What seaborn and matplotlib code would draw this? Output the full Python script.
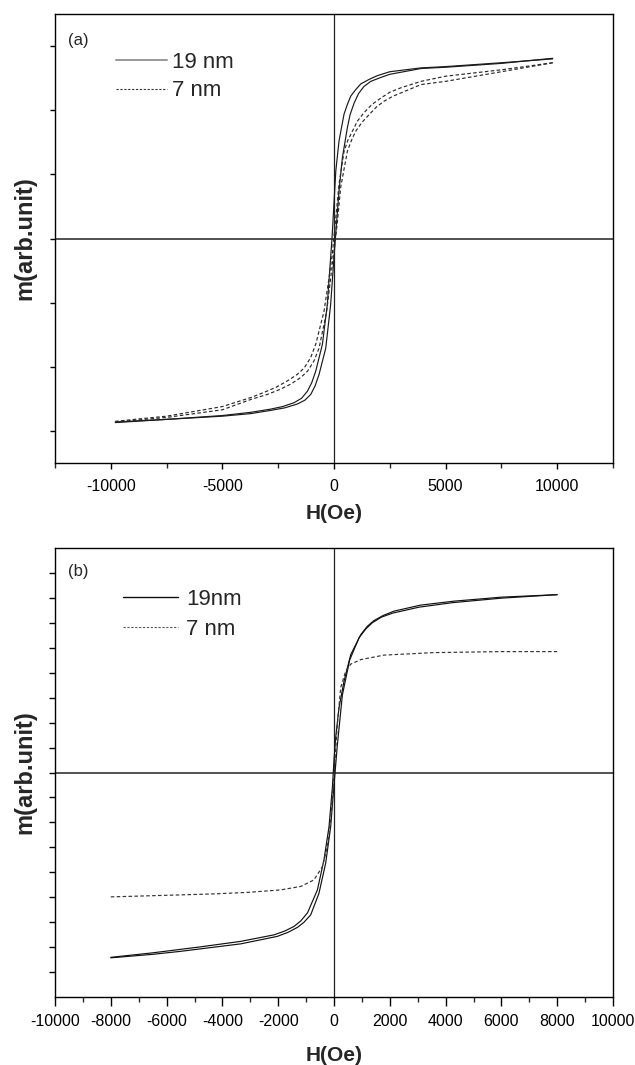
import numpy as np
import pandas as pd
import matplotlib
matplotlib.use("Agg")
import matplotlib.pyplot as plt
from matplotlib.lines import Line2D
import seaborn as sns

# ---------------- data ----------------
# panel (a)
a19_desc_H = [9800, 7500, 5000, 3900, 2500, 1950, 1570, 1200, 970, 750, 600, 450, 225, 80, -90, -300, -520, -820, -1000, -1190, -1450, -1790, -2300, -2840, -3730, -5000, -7500, -9800]
a19_desc_m = [2.80, 2.74, 2.68, 2.66, 2.60, 2.54, 2.48, 2.41, 2.32, 2.22, 2.09, 1.94, 1.52, 1.05, 0.0, -1.03, -1.65, -2.07, -2.25, -2.38, -2.49, -2.56, -2.62, -2.66, -2.71, -2.76, -2.82, -2.86]
a19_asc_H = [-9800, -7500, -5000, -3730, -2840, -2200, -1640, -1300, -1040, -850, -670, -370, -150, 60, 225, 375, 600, 720, 900, 1100, 1340, 1650, 2090, 2500, 3900, 5000, 7500, 9800]
a19_asc_m = [-2.87, -2.82, -2.77, -2.73, -2.68, -2.64, -2.58, -2.52, -2.43, -2.30, -2.12, -1.71, -1.03, 0.0, 0.74, 1.26, 1.73, 1.93, 2.11, 2.26, 2.37, 2.45, 2.51, 2.56, 2.65, 2.67, 2.73, 2.81]

a7_desc_H = [9800, 7500, 5000, 3900, 3000, 2500, 2100, 1700, 1340, 1050, 820, 620, 450, 225, 75, -80, -225, -450, -820, -1050, -1340, -1650, -2090, -2600, -3140, -3730, -5000, -7500, -9800]
a7_desc_m = [2.74, 2.63, 2.53, 2.45, 2.35, 2.28, 2.19, 2.09, 1.96, 1.83, 1.67, 1.53, 1.36, 0.85, 0.30, -0.25, -0.62, -1.14, -1.65, -1.86, -2.02, -2.12, -2.22, -2.32, -2.40, -2.48, -2.62, -2.77, -2.85]
a7_asc_H = [-9800, -7500, -5000, -3730, -2980, -2400, -1940, -1500, -1190, -900, -670, -330, -150, 0, 150, 300, 600, 780, 970, 1250, 1570, 1900, 2240, 2650, 3140, 3900, 5000, 7500, 9800]
a7_asc_m = [-2.86, -2.79, -2.67, -2.51, -2.43, -2.35, -2.27, -2.17, -2.07, -1.91, -1.71, -1.14, -0.62, -0.20, 0.25, 0.80, 1.36, 1.53, 1.67, 1.81, 1.93, 2.05, 2.14, 2.22, 2.29, 2.40, 2.45, 2.60, 2.74]

# panel (b)
b19_desc_H = [8000, 6000, 4300, 3100, 2150, 1750, 1430, 1200, 960, 600, 360, 180, 60, 0, -57, -180, -360, -595, -950, -1190, -1430, -1750, -2150, -3340, -4780, -6500, -8000]
b19_desc_m = [3.56, 3.51, 3.43, 3.35, 3.23, 3.14, 3.04, 2.93, 2.76, 2.36, 1.83, 1.30, 0.70, 0.25, -0.29, -1.09, -1.75, -2.35, -2.81, -2.97, -3.08, -3.17, -3.25, -3.38, -3.49, -3.61, -3.70]
b19_asc_H = [-8000, -6500, -5500, -3340, -2030, -1650, -1310, -1080, -835, -540, -300, -120, 0, 120, 300, 560, 900, 1150, 1380, 1700, 2100, 3050, 4250, 6000, 8000]
b19_asc_m = [-3.71, -3.64, -3.58, -3.43, -3.28, -3.20, -3.10, -3.00, -2.85, -2.42, -1.82, -1.09, -0.25, 0.55, 1.55, 2.25, 2.70, 2.88, 3.00, 3.11, 3.19, 3.31, 3.40, 3.49, 3.56]

b7_H = [-8000, -5500, -4300, -3100, -1910, -1190, -720, -420, -240, -120, 0, 120, 240, 420, 600, 960, 1790, 3580, 5980, 8000]
b7_m = [-2.49, -2.45, -2.43, -2.40, -2.35, -2.28, -2.15, -1.89, -1.49, -0.96, -0.05, 0.97, 1.70, 2.03, 2.17, 2.26, 2.35, 2.40, 2.42, 2.42]

labels_a = ["19 nm", "7 nm"]
labels_b = ["19nm", "7 nm"]
xticks_a = [-10000, -5000, 0, 5000, 10000]
xticks_b = [-10000, -8000, -6000, -4000, -2000, 0, 2000, 4000, 6000, 8000, 10000]

# ---------------- style ----------------
sns.set_style("ticks")
plt.rcParams["font.family"] = ["Liberation Sans", "DejaVu Sans"]
plt.rcParams["axes.linewidth"] = 1.0

fig = plt.figure(figsize=(6.35, 10.65), dpi=100)
W, Hh = 635.0, 1065.0
axA = fig.add_axes([55 / W, (Hh - 463) / Hh, 558 / W, 449 / Hh])
axB = fig.add_axes([55 / W, (Hh - 997.3) / Hh, 558 / W, 449.6 / Hh])

DASH = (0, (3, 2))
LW = 0.85


def branch(ax, H, m, color, ls):
    df = pd.DataFrame({"H": H, "m": m})
    sns.lineplot(data=df, x="H", y="m", sort=False, estimator=None, ax=ax,
                 color=color, linewidth=LW, linestyle=ls)


# panel (a)
branch(axA, a19_desc_H, a19_desc_m, "#1a1a1a", "-")
branch(axA, a19_asc_H, a19_asc_m, "#1a1a1a", "-")
branch(axA, a7_desc_H, a7_desc_m, "#2a2a2a", DASH)
branch(axA, a7_asc_H, a7_asc_m, "#2a2a2a", DASH)

# panel (b)
branch(axB, b19_desc_H, b19_desc_m, "#111111", "-")
branch(axB, b19_asc_H, b19_asc_m, "#111111", "-")
branch(axB, b7_H, b7_m, "#333333", DASH)

for ax in (axA, axB):
    ax.axhline(0, color="#222222", lw=1.1, zorder=1)
    ax.axvline(0, color="#222222", lw=0.9, zorder=1)
    for s in ax.spines.values():
        s.set_color("black")
        s.set_linewidth(1.0)
    ax.tick_params(axis="both", direction="out", top=False, right=False, colors="black")
    ax.tick_params(axis="x", labelsize=11.5)
    ax.set_xlabel("H(Oe)", fontsize=15, fontweight="bold")
    ax.set_ylabel("m(arb.unit)", fontsize=17, fontweight="bold")

# axis (a)
axA.set_xlim(-12500, 12500)
axA.set_ylim(-3.5, 3.5)
axA.set_xticks(xticks_a)
axA.set_xticklabels([str(t) for t in xticks_a])
axA.set_xticks(np.arange(-12500, 12501, 2500), minor=True)
axA.set_yticks(np.arange(-3, 4, 1))
axA.set_yticklabels([])
axA.tick_params(axis="x", which="major", length=4.5, width=1.0, pad=7)
axA.tick_params(axis="x", which="minor", length=3.6, width=1.0)
axA.tick_params(axis="y", which="major", length=3.8, width=1.0)
axA.xaxis.set_label_coords(0.5, -0.092)
axA.yaxis.set_label_coords(-0.034, 0.5)

# axis (b)
axB.set_xlim(-10000, 10000)
axB.set_ylim(-4.5, 4.5)
axB.set_xticks(xticks_b)
axB.set_xticklabels([str(t) for t in xticks_b])
axB.set_xticks(np.arange(-10000, 10001, 1000), minor=True)
axB.set_yticks(np.arange(-4, 4.01, 0.5))
axB.set_yticklabels([])
axB.tick_params(axis="x", which="major", length=6.5, width=1.0, pad=5.5)
axB.tick_params(axis="x", which="minor", length=3.6, width=1.0)
axB.tick_params(axis="y", which="major", length=4.2, width=1.0)
axB.xaxis.set_label_coords(0.5, -0.108)
axB.yaxis.set_label_coords(-0.034, 0.5)

# panel letters
axA.text(0.0233, 0.942, "(a)", transform=axA.transAxes, fontsize=12, va="center", ha="left")
axB.text(0.0233, 0.9466, "(b)", transform=axB.transAxes, fontsize=12, va="center", ha="left")

# legends
hA = [Line2D([], [], color="#999999", lw=1.4), Line2D([], [], color="#333333", lw=0.8, linestyle=(0, (2, 1.5)))]
axA.legend(hA, labels_a, loc="upper left", bbox_to_anchor=(0.109, 0.915), frameon=False,
           fontsize=16, handlelength=2.3, handletextpad=0.25, borderpad=0, borderaxespad=0,
           labelspacing=0.33)
hB = [Line2D([], [], color="#111111", lw=1.0), Line2D([], [], color="#555555", lw=0.8, linestyle=(0, (2, 1.5)))]
axB.legend(hB, labels_b, loc="upper left", bbox_to_anchor=(0.122, 0.908), frameon=False,
           fontsize=16, handlelength=2.45, handletextpad=0.4, borderpad=0, borderaxespad=0,
           labelspacing=0.41)

fig.savefig("out.png", dpi=100)
